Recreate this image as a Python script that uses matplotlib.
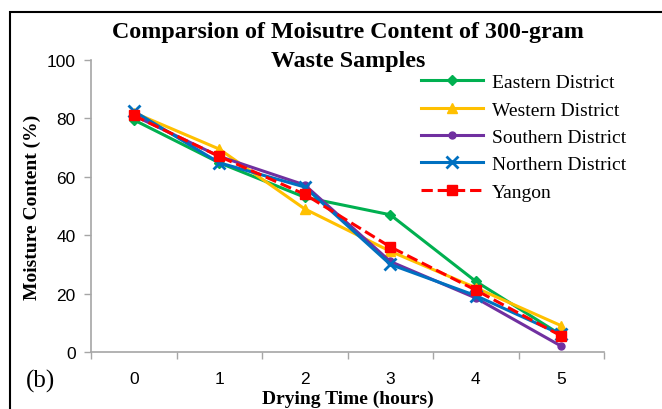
import matplotlib
matplotlib.use("Agg")
import matplotlib.pyplot as plt
from matplotlib.patches import Rectangle

hours = [0, 1, 2, 3, 4, 5]
eastern = [79.5, 64.8, 53.0, 47.0, 24.2, 5.8]
western = [82.0, 69.5, 49.0, 34.5, 22.0, 9.0]
southern = [81.0, 67.0, 57.2, 31.0, 18.5, 2.0]
northern = [82.5, 64.8, 56.5, 30.0, 19.3, 6.0]
yangon = [81.0, 67.0, 54.0, 36.0, 21.2, 5.5]

serif = ["Liberation Serif", "DejaVu Serif"]
sans = ["Liberation Sans", "DejaVu Sans"]

fig = plt.figure(figsize=(6.62, 4.10), dpi=100)
fig.patches.append(Rectangle((10/662, -0.1), 1.1, 1 - 13/410 + 0.1,
                             transform=fig.transFigure, fill=False,
                             edgecolor="black", linewidth=1.5))
ax = fig.add_axes([91/662, 1 - 353/410, (604 - 91)/662, (353 - 61)/410])

lw = 2.2
ax.plot(hours, eastern, color="#00B050", marker="D", markersize=5, lw=lw, label="Eastern District")
ax.plot(hours, western, color="#FFC000", marker="^", markersize=7, lw=lw, label="Western District")
ax.plot(hours, southern, color="#7030A0", marker="o", markersize=5, lw=lw, label="Southern District")
ax.plot(hours, northern, color="#0070C0", marker="x", markersize=8, mew=2, lw=lw, label="Northern District")
ax.plot(hours, yangon, color="#FF0000", marker="s", markersize=7, lw=lw, ls="--", label="Yangon")

ax.set_xlim(-0.5, 5.5)
ax.set_ylim(0, 100)
ax.set_yticks([0, 20, 40, 60, 80, 100])
ax.set_xticks(hours)
ax.set_xticks([h - 0.5 for h in hours] + [5.5], minor=True)
ax.tick_params(axis="x", which="major", length=0, pad=14)
ax.tick_params(axis="x", which="minor", length=5, color="#A6A6A6", width=1)
ax.tick_params(axis="y", length=5, color="#A6A6A6", width=1, pad=6)
for lab in ax.get_xticklabels() + ax.get_yticklabels():
    lab.set_family(sans)
    lab.set_fontsize(12.5)
for s in ["top", "right"]:
    ax.spines[s].set_visible(False)
for s in ["left", "bottom"]:
    ax.spines[s].set_color("#A6A6A6")
    ax.spines[s].set_linewidth(1.2)

ax.set_ylabel("Moisture Content (%)", family=serif, fontweight="bold", fontsize=14, labelpad=4)
ax.set_xlabel("Drying Time (hours)", family=serif, fontweight="bold", fontsize=14, labelpad=2)

fig.text(0.526, 1 - 47/410, "Comparsion of Moisutre Content of 300-gram\nWaste Samples",
         ha="center", va="center", family=serif, fontweight="bold", fontsize=17.3,
         linespacing=1.45)

leg = ax.legend(loc="upper left", bbox_to_anchor=(0.617, 1.0), frameon=False,
                prop={"family": serif, "size": 14}, handlelength=3.2,
                labelspacing=0.5, handletextpad=0.45, borderaxespad=0.3)

fig.text(26/662, 1 - 381/410, "(b)", family=serif, fontsize=18, va="center", ha="left")

fig.savefig("out.png", dpi=100)
